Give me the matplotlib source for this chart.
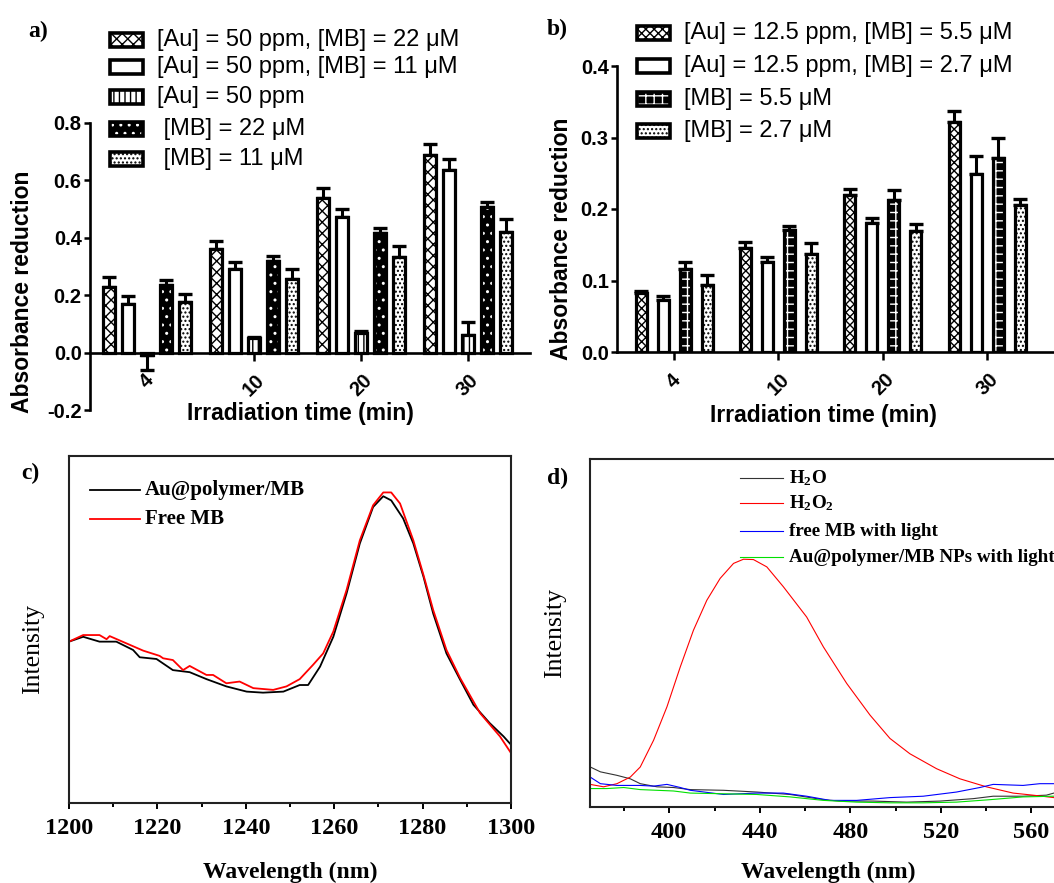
import matplotlib
matplotlib.use('Agg')
import matplotlib.pyplot as plt
from matplotlib.patches import Rectangle
from matplotlib.lines import Line2D
from matplotlib.ticker import MultipleLocator

# ---------------- data ----------------
times = ['4', '10', '20', '30']

# panel a
a_labels = ['[Au] = 50 ppm, [MB] = 22 μM', '[Au] = 50 ppm, [MB] = 11 μM',
            '[Au] = 50 ppm', ' [MB] = 22 μM', ' [MB] = 11 μM']
a_au50_mb22 = [0.227, 0.360, 0.540, 0.687]
a_au50_mb11 = [0.169, 0.292, 0.471, 0.637]
a_au50 = [-0.010, 0.050, 0.070, 0.060]
a_mb22 = [0.237, 0.320, 0.418, 0.506]
a_mb11 = [0.175, 0.258, 0.334, 0.419]
a_err_au50_mb22 = [0.035, 0.030, 0.033, 0.041]
a_err_au50_mb11 = [0.027, 0.022, 0.029, 0.037]
a_err_au50 = [0.052, 0.004, 0.004, 0.047]
a_err_mb22 = [0.016, 0.016, 0.017, 0.019]
a_err_mb11 = [0.029, 0.035, 0.037, 0.045]
a_yticks = [-0.2, 0.0, 0.2, 0.4, 0.6, 0.8]

# panel b
b_labels = ['[Au] = 12.5 ppm, [MB] = 5.5 μM', '[Au] = 12.5 ppm, [MB] = 2.7 μM',
            '[MB] = 5.5 μM', '[MB] = 2.7 μM']
b_au_mb55 = [0.082, 0.145, 0.220, 0.322]
b_au_mb27 = [0.073, 0.126, 0.180, 0.249]
b_mb55 = [0.116, 0.170, 0.213, 0.272]
b_mb27 = [0.094, 0.137, 0.169, 0.205]
b_err_au_mb55 = [0.003, 0.009, 0.008, 0.015]
b_err_au_mb27 = [0.006, 0.007, 0.008, 0.025]
b_err_mb55 = [0.010, 0.006, 0.014, 0.027]
b_err_mb27 = [0.013, 0.016, 0.010, 0.009]
b_yticks = [0.0, 0.1, 0.2, 0.3, 0.4]

# panel c (normalised intensity)
c_labels = ['Au@polymer/MB', 'Free MB']
c_wl_black = [1200, 1203.2, 1206.9, 1210.7, 1214.5, 1216, 1219.8, 1223.5, 1227.3, 1231.1,
              1235.6, 1240.2, 1243.9, 1248.5, 1252.2, 1254.1, 1256.8, 1259.8, 1262.8, 1265.8,
              1268.8, 1271.1, 1272.9, 1275.6, 1277.9, 1280.2, 1282.4, 1285.4, 1288.5, 1291.5,
              1295.2, 1298.3, 1300]
c_int_black = [0.465, 0.479, 0.465, 0.465, 0.441, 0.420, 0.415, 0.383, 0.377, 0.357,
               0.336, 0.321, 0.318, 0.321, 0.340, 0.340, 0.393, 0.479, 0.604, 0.748,
               0.853, 0.884, 0.872, 0.820, 0.748, 0.652, 0.546, 0.431, 0.355, 0.283,
               0.230, 0.192, 0.168]
c_wl_red = [1200, 1203.2, 1206.9, 1208.5, 1209.2, 1213, 1216.8, 1220.5, 1221.3, 1223.5,
            1225.8, 1227.3, 1231.1, 1232.6, 1235.6, 1238.6, 1241.7, 1246.2, 1249.2, 1252.2,
            1255.2, 1257.5, 1259.8, 1262.8, 1265.8, 1268.8, 1271.1, 1272.9, 1274.9, 1277.9,
            1280.2, 1282.4, 1285.4, 1288.5, 1293, 1297.5, 1300]
c_int_red = [0.465, 0.484, 0.484, 0.472, 0.481, 0.460, 0.439, 0.424, 0.417, 0.412,
             0.383, 0.395, 0.369, 0.369, 0.345, 0.350, 0.331, 0.326, 0.336, 0.357,
             0.398, 0.431, 0.494, 0.614, 0.757, 0.858, 0.895, 0.895, 0.863, 0.757,
             0.657, 0.556, 0.441, 0.360, 0.259, 0.192, 0.144]

# panel d
d_labels = ['H$_2$O', 'H$_2$O$_2$', 'free MB with light', 'Au@polymer/MB NPs with light']
d_wl_h2o2 = [365.1, 371, 376.9, 382.8, 387.2, 393.1, 399, 404.9, 410.7, 416.6, 422.5, 428.4,
             432.8, 437.2, 443.1, 450.4, 460.7, 468.1, 478.4, 488.7, 497.5, 506.3, 518.1,
             528.4, 540.1, 551.9, 560.7, 569.9]
d_int_h2o2 = [0.065, 0.058, 0.067, 0.086, 0.115, 0.192, 0.288, 0.403, 0.508, 0.594, 0.657, 0.700,
              0.712, 0.711, 0.690, 0.633, 0.546, 0.460, 0.355, 0.264, 0.197, 0.153, 0.110,
              0.081, 0.058, 0.040, 0.034, 0.027]
d_wl_h2o = [365.1, 369.6, 376.9, 382.8, 387.2, 394.6, 401.9, 409.3, 424, 438.7, 453.4, 468.1,
            475.4, 490.1, 504.9, 519.6, 534.3, 543.1, 556.3, 566.6, 569.9]
d_int_h2o = [0.115, 0.101, 0.091, 0.081, 0.067, 0.058, 0.056, 0.050, 0.048, 0.043, 0.036, 0.021,
             0.017, 0.017, 0.014, 0.017, 0.024, 0.031, 0.031, 0.034, 0.040]
d_wl_free = [365.1, 369.6, 376.9, 387.2, 393.1, 399, 404.9, 409.3, 424, 438.7, 450.4, 460.7,
             471, 482.8, 497.5, 512.2, 526.9, 537.2, 543.1, 556.3, 563.7, 569.9]
d_int_free = [0.086, 0.067, 0.062, 0.062, 0.060, 0.065, 0.056, 0.048, 0.036, 0.040, 0.040, 0.031,
              0.019, 0.019, 0.027, 0.031, 0.043, 0.056, 0.065, 0.062, 0.067, 0.067]
d_wl_np = [365.1, 372.5, 379.9, 387.2, 401.9, 409.3, 424, 438.7, 453.4, 468.1, 482.8, 497.5,
           512.2, 526.9, 541.6, 556.3, 569.9]
d_int_np = [0.053, 0.053, 0.056, 0.050, 0.046, 0.040, 0.038, 0.036, 0.029, 0.019, 0.014, 0.012,
            0.012, 0.014, 0.021, 0.029, 0.031]

# ---------------- layout helpers ----------------
W, H = 1054, 883
plt.rcParams['hatch.linewidth'] = 1.0
plt.rcParams['mathtext.fontset'] = 'custom'
plt.rcParams['mathtext.rm'] = 'Liberation Serif:bold'
plt.rcParams['mathtext.it'] = 'Liberation Serif:bold'
plt.rcParams['mathtext.bf'] = 'Liberation Serif:bold'
SANS = 'Liberation Sans'
SERIF = 'Liberation Serif'

fig = plt.figure(figsize=(W / 100, H / 100), dpi=100)


def fx(x):
    return x / W


def fy(y):
    return 1 - y / H


def axrect(l, t, r, b):
    return [l / W, 1 - b / H, (r - l) / W, (b - t) / H]


EDGE = 2.3
# style: (face, hatch, hatch colour)
a_styles = [('white', 'xxx', 'black'), ('white', None, None), ('white', '|||', 'black'),
            ('black', '..', 'white'), ('white', '....', 'black')]
b_styles = [('white', 'xxxx', 'black'), ('white', None, None), ('black', '++', 'white'),
            ('white', '....', 'black')]


def draw_bars(ax, xs, vals, errs, width, style):
    face, hatch, hc = style
    if hatch and hc == 'white':
        ax.bar(xs, vals, width, color=face, edgecolor='white', hatch=hatch, linewidth=0, zorder=2)
        ax.bar(xs, vals, width, facecolor='none', edgecolor='black', linewidth=EDGE, zorder=3)
    else:
        ax.bar(xs, vals, width, facecolor=face, edgecolor='black', hatch=hatch,
               linewidth=EDGE, zorder=2)
    low = [e if v < 0 else 0 for v, e in zip(vals, errs)]
    up = [e if v >= 0 else 0 for v, e in zip(vals, errs)]
    ax.errorbar(xs, vals, yerr=[low, up], fmt='none', ecolor='black', elinewidth=2.2,
                capsize=5, capthick=2.4, zorder=1)


def legend_patch(x0, yc, w, h, style):
    face, hatch, hc = style
    rect = (fx(x0), fy(yc + h / 2))
    if hatch and hc == 'white':
        fig.patches.append(Rectangle(rect, w / W, h / H, transform=fig.transFigure,
                                     facecolor=face, edgecolor='white', hatch=hatch, linewidth=0))
        fig.patches.append(Rectangle(rect, w / W, h / H, transform=fig.transFigure,
                                     facecolor='none', edgecolor='black', linewidth=2.6))
    else:
        fig.patches.append(Rectangle(rect, w / W, h / H, transform=fig.transFigure,
                                     facecolor=face, edgecolor='black', hatch=hatch, linewidth=2.6))


def style_bar_axes(ax):
    for s in ['top', 'right']:
        ax.spines[s].set_visible(False)
    for s in ['left', 'bottom']:
        ax.spines[s].set_linewidth(1.9)
    ax.spines['bottom'].set_position(('data', 0))
    ax.tick_params(axis='y', direction='out', length=4.5, width=1.8, pad=1.5, labelsize=14.5)
    ax.tick_params(axis='x', direction='out', length=6, width=1.8, pad=7, labelsize=14.5,
                   labelrotation=45)
    for lab in ax.get_yticklabels():
        lab.set_fontweight('bold'); lab.set_family(SANS)
    for lab in ax.get_xticklabels():
        lab.set_fontweight('bold'); lab.set_family(SANS)
        lab.set_horizontalalignment('center')


# ---------------- panel a ----------------
axa = fig.add_axes(axrect(90, 123, 530, 410))
a_series = [a_au50_mb22, a_au50_mb11, a_au50, a_mb22, a_mb11]
a_errs = [a_err_au50_mb22, a_err_au50_mb11, a_err_au50, a_err_mb22, a_err_mb11]
a_step, a_w = 0.178, 0.11
for k, (vals, errs) in enumerate(zip(a_series, a_errs)):
    xs = [i + (k - 2) * a_step for i in range(len(times))]
    draw_bars(axa, xs, vals, errs, a_w, a_styles[k])
axa.set_xlim(-0.533, 3.58)
axa.set_ylim(-0.2, 0.8)
axa.set_yticks(a_yticks)
axa.set_yticklabels([f'{v:.1f}' for v in a_yticks])
axa.set_xticks(range(len(times)))
axa.set_xticklabels(times)
style_bar_axes(axa)

for k, (lab, yc) in enumerate(zip(a_labels, [40, 67, 97, 129, 159])):
    legend_patch(110, yc, 33, 13, a_styles[k])
    fig.text(fx(157), fy(yc), lab, family=SANS, fontsize=17, va='center', ha='left')

fig.text(fx(23), fy(292), 'Absorbance reduction', rotation=90, family=SANS, fontweight='bold',
         fontsize=16.5, ha='center', va='center')
fig.text(fx(300), fy(413), 'Irradiation time (min)', family=SANS, fontweight='bold',
         fontsize=16.5, ha='center', va='center')
fig.text(fx(38), fy(31), 'a)', family=SERIF, fontweight='bold', fontsize=17, ha='center', va='center')

# ---------------- panel b ----------------
axb = fig.add_axes(axrect(617, 66, 1080, 352))
b_series = [b_au_mb55, b_au_mb27, b_mb55, b_mb27]
b_errs = [b_err_au_mb55, b_err_au_mb27, b_err_mb55, b_err_mb27]
b_step, b_w = 0.211, 0.105
for k, (vals, errs) in enumerate(zip(b_series, b_errs)):
    xs = [i + (k - 1.5) * b_step for i in range(len(times))]
    draw_bars(axb, xs, vals, errs, b_w, b_styles[k])
axb.set_xlim(-0.547, 3.89)
axb.set_ylim(0, 0.4)
axb.set_yticks(b_yticks)
axb.set_yticklabels([f'{v:.1f}' for v in b_yticks])
axb.set_xticks(range(len(times)))
axb.set_xticklabels(times)
style_bar_axes(axb)

for k, (lab, yc) in enumerate(zip(b_labels, [33, 66, 99, 131])):
    legend_patch(637, yc, 33, 13, b_styles[k])
    fig.text(fx(684), fy(yc), lab, family=SANS, fontsize=17, va='center', ha='left')

fig.text(fx(561), fy(239), 'Absorbance reduction', rotation=90, family=SANS, fontweight='bold',
         fontsize=16.5, ha='center', va='center')
fig.text(fx(823), fy(415), 'Irradiation time (min)', family=SANS, fontweight='bold',
         fontsize=16.5, ha='center', va='center')
fig.text(fx(557), fy(29), 'b)', family=SERIF, fontweight='bold', fontsize=17, ha='center', va='center')


# ---------------- panels c, d ----------------
def style_spec_axes(ax):
    for s in ax.spines.values():
        s.set_linewidth(1.5)
        s.set_color('#222222')
    ax.set_yticks([])
    ax.tick_params(axis='x', which='major', direction='out', length=4.5, width=1.4, pad=6,
                   labelsize=17.5, top=False)
    ax.tick_params(axis='x', which='minor', direction='out', length=3, width=1.4, top=False)
    for lab in ax.get_xticklabels():
        lab.set_fontweight('bold'); lab.set_family(SERIF)


axc = fig.add_axes(axrect(69, 456, 511, 803))
axc.plot(c_wl_black, c_int_black, color='black', lw=1.3)
axc.plot(c_wl_red, c_int_red, color='#ff0000', lw=1.3)
axc.set_xlim(1200, 1300)
axc.set_ylim(0, 1)
axc.xaxis.set_major_locator(MultipleLocator(20))
axc.xaxis.set_minor_locator(MultipleLocator(10))
style_spec_axes(axc)
for lab, col, yc in zip(c_labels, ['black', '#ff0000'], [490, 519]):
    fig.add_artist(Line2D([fx(90), fx(140)], [fy(yc), fy(yc)], color=col, lw=1.3,
                          transform=fig.transFigure))
    fig.text(fx(145), fy(yc), lab, family=SERIF, fontweight='bold', fontsize=15, va='center')
fig.text(fx(290), fy(872), 'Wavelength (nm)', family=SERIF, fontweight='bold', fontsize=17,
         ha='center', va='center')
fig.text(fx(33), fy(649), 'Intensity', family=SERIF, fontsize=18.5, rotation=90,
         ha='center', va='center')
fig.text(fx(30), fy(473), 'c)', family=SERIF, fontweight='bold', fontsize=17, ha='center', va='center')

axd = fig.add_axes(axrect(590, 459, 1122, 807))
d_cols = ['#333333', '#ff0000', '#0000ff', '#00e000']
axd.plot(d_wl_h2o, d_int_h2o, color=d_cols[0], lw=0.8)
axd.plot(d_wl_h2o2, d_int_h2o2, color=d_cols[1], lw=0.8)
axd.plot(d_wl_free, d_int_free, color=d_cols[2], lw=0.8)
axd.plot(d_wl_np, d_int_np, color=d_cols[3], lw=0.8)
axd.set_xlim(365, 600)
axd.set_ylim(0, 1)
axd.xaxis.set_major_locator(MultipleLocator(40))
axd.xaxis.set_minor_locator(MultipleLocator(20))
style_spec_axes(axd)
for lab, col, yc in zip(d_labels, d_cols, [478, 503, 531, 557]):
    fig.add_artist(Line2D([fx(740), fx(783)], [fy(yc), fy(yc)], color=col, lw=0.8,
                          transform=fig.transFigure))
    fig.text(fx(789), fy(yc), lab, family=SERIF, fontweight='bold', fontsize=13.7, va='center')
fig.text(fx(828), fy(872), 'Wavelength (nm)', family=SERIF, fontweight='bold', fontsize=17,
         ha='center', va='center')
fig.text(fx(555), fy(633), 'Intensity', family=SERIF, fontsize=18.5, rotation=90,
         ha='center', va='center')
fig.text(fx(558), fy(478), 'd)', family=SERIF, fontweight='bold', fontsize=17, ha='center', va='center')

fig.savefig('out.png', dpi=100)
